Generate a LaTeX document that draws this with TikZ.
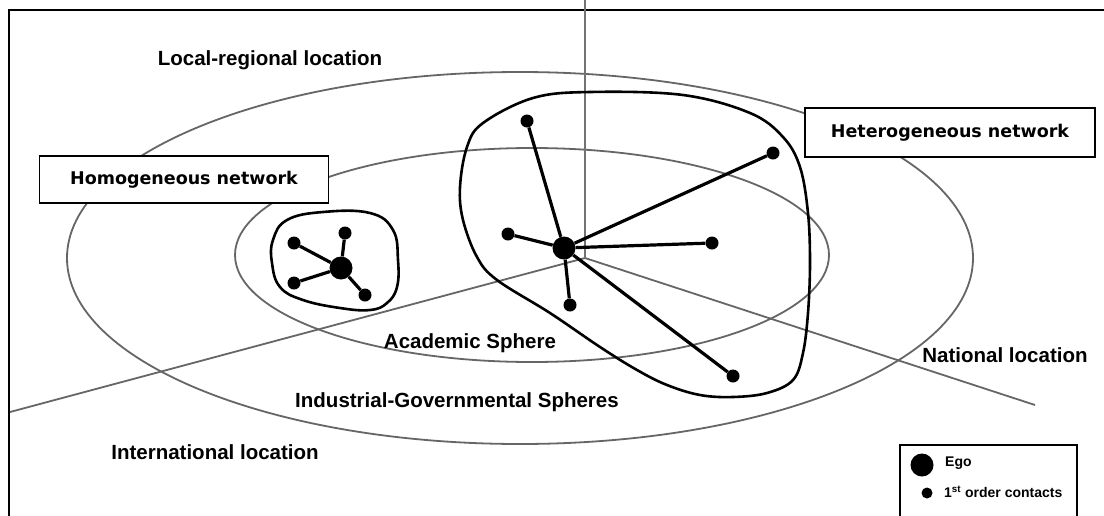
\documentclass[tikz,border=0pt]{standalone}
\usepackage{fontspec}
\setmainfont{Liberation Sans}
\newfontfamily\boxfont{DejaVu Sans}
\begin{document}
\begin{tikzpicture}[x=1pt,y=-1pt,
  region/.style={draw=black!60, line width=1.8pt},
  divider/.style={draw=black!60, line width=1.8pt},
  vline/.style={draw=black!55, line width=2.6pt},
  blob/.style={draw=black, line width=2.6pt},
  link/.style={draw=black, line width=3.2pt},
  ego/.style={circle, fill=black, inner sep=0pt, minimum size=23pt},
  contact/.style={circle, fill=black, inner sep=0pt, minimum size=13pt},
  lbl/.style={font=\fontsize{20.5}{22}\selectfont\bfseries, inner sep=0pt},
  netbox/.style={draw=black, line width=1.5pt, fill=white, font=\boxfont\fontsize{17.5}{20}\selectfont\bfseries, minimum width=289pt, minimum height=47pt, inner sep=0pt},
  legtext/.style={font=\fontsize{14}{15}\selectfont\bfseries, inner sep=0pt, anchor=west},
]
\useasboundingbox (0,0) rectangle (1104,515);
\clip (0,0) rectangle (1104,515);
\fill[white] (0,0) rectangle (1104,515);
% frame
\draw[line width=2pt] (9,10) rectangle (1130,540);

% spheres
\draw[region] (520,258) ellipse [x radius=453pt, y radius=186pt];
\draw[region] (532,255) ellipse [x radius=297pt, y radius=107pt];

% location dividers
\coordinate (hub) at (585,258);
\coordinate (north) at (585,0);
\coordinate (west) at (10,412);
\coordinate (east) at (1035,405);
\draw[divider] (west) -- (hub) -- (east);
\draw[vline] (north) -- (hub);

% boxes
\node[netbox] (homobox) at (184,179.5) {Homogeneous network};
\node[netbox, minimum width=290pt, minimum height=49pt] (hetbox) at (950,132.5) {Heterogeneous network};

% homogeneous network
\draw[blob] plot[smooth cycle, tension=0.7] coordinates {(273,240) (287,220) (323,212) (370,213) (393,230) (398,260) (397,287) (387,303) (370,310) (340,308) (303,300) (280,287) (272,263)};
\node[ego] (he) at (341,268) {};
\node[contact] (h1) at (294,243) {};
\node[contact] (h2) at (345,233) {};
\node[contact] (h3) at (294,283) {};
\node[contact] (h4) at (365,295) {};
\draw[link] (he) -- (h1);
\draw[link] (he) -- (h2);
\draw[link] (he) -- (h3);
\draw[link] (he) -- (h4);

% heterogeneous network
\draw[blob] plot[smooth cycle, tension=0.6] coordinates {(467,147) (483,123) (533,98) (590,92) (683,95) (750,113) (783,137) (800,167) (808,213) (810,263) (808,313) (803,353) (793,380) (767,393) (733,397) (700,395) (667,385) (637,370) (600,347) (550,313) (497,280) (477,257) (463,220) (460,187)};
\node[ego] (te) at (564,248) {};
\node[contact] (t1) at (527,121) {};
\node[contact] (t2) at (773,153) {};
\node[contact] (t3) at (508,234) {};
\node[contact] (t4) at (712,243) {};
\node[contact] (t5) at (570,305) {};
\node[contact] (t6) at (733,376) {};
\draw[link] (te) -- (t1);
\draw[link] (te) -- (t2);
\draw[link] (te) -- (t3);
\draw[link] (te) -- (t4);
\draw[link] (te) -- (t5);
\draw[link] (te) -- (t6);

% labels
\node[lbl] (loc) at (270,60) {Local-regional location};
\node[lbl] (acad) at (470,343) {Academic Sphere};
\node[lbl] (ind) at (457,402) {Industrial-Governmental Spheres};
\node[lbl] (nat) at (1005,355) {National location};
\node[lbl] (intl) at (215,452) {International location};

% legend
\draw[line width=2pt] (900,445) rectangle (1077,540);
\node[ego] (legego) at (922,465) {};
\node[contact, minimum size=11pt] (legcon) at (927,493) {};
\node[legtext] (legegot) at (945,463) {Ego};
\node[legtext] (legcont) at (944,492) {1\textsuperscript{st} order contacts};
\end{tikzpicture}
\end{document}
